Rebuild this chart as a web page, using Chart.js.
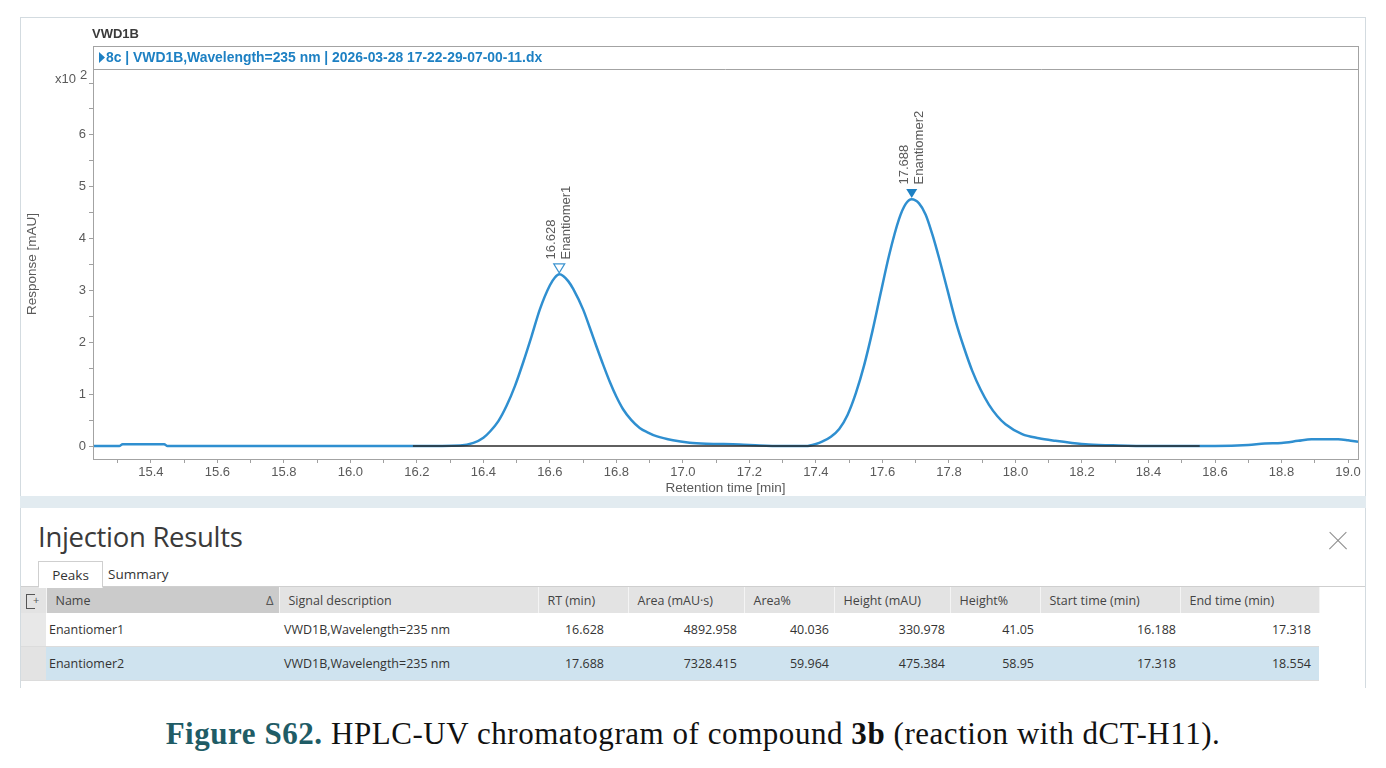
<!DOCTYPE html>
<html>
<head>
<meta charset="utf-8">
<script src="https://cdn.jsdelivr.net/npm/chart.js@4.4.1/dist/chart.umd.min.js"></script>
<style>
  html, body { margin: 0; padding: 0; background: #ffffff; }
  body { width: 1386px; height: 768px; position: relative; overflow: hidden; font-family: "Liberation Sans", Arial, sans-serif; }
  #topPanel { position: absolute; left: 20px; top: 17px; width: 1344px; height: 478px; border: 1px solid #d3dbe0; border-bottom: none; background: #fff; }
  #band { position: absolute; left: 20px; top: 496px; width: 1346px; height: 12px; background: #e2ebf0; }
  #bottomPanel { position: absolute; left: 20px; top: 508px; width: 1344px; height: 180px; border-left: 1px solid #d3dbe0; border-right: 1px solid #d3dbe0; background: #fff; }
  #chartBox { position: absolute; left: 0; top: 0; width: 1344px; height: 478px; }
  .ir-title { position: absolute; left: 17px; top: 10px; font-family: "Open Sans", sans-serif; font-size: 27.5px; color: #3a3a3a; letter-spacing: -0.3px; }
  .ir-close { position: absolute; left: 1308px; top: 24px; width: 18px; height: 18px; }
  .ir-close:before, .ir-close:after { content: ""; position: absolute; left: -3px; top: 8px; width: 24px; height: 1.4px; background: #8a8a8a; }
  .ir-close:before { transform: rotate(45deg); }
  .ir-close:after { transform: rotate(-45deg); }
  .tabline { position: absolute; left: 0; top: 78px; width: 1344px; height: 1px; background: #cfcfcf; }
  .tab { position: absolute; top: 53px; height: 25px; font-family: "Open Sans", sans-serif; font-size: 13.5px; color: #333; line-height: 26px; }
  .tab.active { left: 17px; width: 63px; border: 1px solid #cfcfcf; border-bottom: 1px solid #fff; background: #fff; text-align: center; z-index: 2; }
  .tab.inactive { left: 87px; }
  table.peaks { position: absolute; left: 0; top: 79px; border-collapse: collapse; table-layout: fixed; font-family: "Open Sans", sans-serif; font-size: 12.5px; color: #333; }
  table.peaks th { height: 26px; background: #e3e3e3; font-weight: normal; color: #444; text-align: left; padding: 0 0 0 9px; border-right: 1px solid #f4f4f4; white-space: nowrap; overflow: hidden; }
  table.peaks th.sorted { background: #cbcbcb; position: relative; }
  table.peaks th.icon { background: #e3e3e3; padding: 0; }
  table.peaks td { height: 33px; border-bottom: 1px solid #dcdcdc; white-space: nowrap; overflow: hidden; padding: 0 6px 0 3px; }
  table.peaks td.icon { background: #e8e8e8; padding: 0; border-bottom: 1px solid #dcdcdc; }
  table.peaks td.num { text-align: right; }
  table.peaks tr.sel td { background: #cfe3ef; }
  table.peaks tr.sel td.icon { background: #e3e3e3; }
  .sortmark { position: absolute; right: 5px; top: 4px; font-size: 13px; color: #555; }
  .colicon { display: inline-block; width: 8px; height: 13px; border: 1px solid #555; border-right: none; margin-left: 5px; vertical-align: middle; position: relative; }
  .colicon:after { content: "+"; position: absolute; left: 6px; top: -3px; font-size: 11px; color: #555; }
  #caption { position: absolute; left: 0; top: 716px; width: 1386px; text-align: center; font-family: "Liberation Serif", serif; font-size: 31px; letter-spacing: 0.55px; color: #111; }
  #caption .fig { color: #1f5c66; font-weight: bold; }
</style>
</head>
<body>
<div id="topPanel"><div id="chartBox"><canvas id="chart" width="1344" height="478"></canvas></div></div>
<div id="band"></div>
<div id="bottomPanel">
  <div class="ir-title">Injection Results</div>
  <div class="ir-close"></div>
  <div class="tab active">Peaks</div>
  <div class="tab inactive">Summary</div>
  <div class="tabline"></div>
  <table class="peaks" id="peakTable"></table>
</div>
<div id="caption"><span class="fig">Figure S62.</span> HPLC-UV chromatogram of compound <b>3b</b> (reaction with dCT-H11).</div>

<script>
// ---------------- DATA ----------------
// Retention time (min) and response (x10^2 mAU)
const retentionTime = [
  15.226, 15.305, 15.315, 15.44, 15.45, 16.20, 16.33, 16.37, 16.40, 16.42,
  16.445, 16.47, 16.495, 16.52, 16.545, 16.57, 16.60, 16.615, 16.628, 16.64,
  16.655, 16.67, 16.70, 16.72, 16.74, 16.76, 16.78, 16.80, 16.82, 16.845,
  16.87, 16.895, 16.92, 16.97, 17.02, 17.07, 17.17, 17.23, 17.30, 17.37,
  17.40, 17.42, 17.445, 17.47, 17.495, 17.52, 17.545, 17.57, 17.595, 17.62,
  17.65, 17.67, 17.688, 17.71, 17.73, 17.75, 17.77, 17.795, 17.82, 17.845,
  17.87, 17.895, 17.92, 17.945, 17.97, 18.02, 18.07, 18.12, 18.17, 18.22,
  18.31, 18.40, 18.60, 18.70, 18.75, 18.80, 18.85, 18.89, 18.97, 19.00,
  19.03
];
const response = [
  0.00, 0.00, 0.035, 0.035, 0.00, 0.00, 0.01, 0.06, 0.16, 0.28,
  0.48, 0.78, 1.16, 1.62, 2.12, 2.64, 3.10, 3.25, 3.31, 3.28,
  3.18, 3.03, 2.63, 2.28, 1.92, 1.57, 1.24, 0.95, 0.71, 0.50,
  0.35, 0.26, 0.19, 0.11, 0.065, 0.045, 0.03, 0.01, 0.00, 0.00,
  0.04, 0.09, 0.18, 0.33, 0.60, 1.02, 1.56, 2.22, 2.96, 3.68,
  4.38, 4.67, 4.76, 4.68, 4.46, 4.08, 3.63, 3.02, 2.41, 1.90,
  1.45, 1.09, 0.80, 0.58, 0.42, 0.23, 0.15, 0.10, 0.06, 0.03,
  0.01, 0.00, 0.00, 0.02, 0.05, 0.06, 0.10, 0.13, 0.13, 0.11,
  0.08
];
// Integration baseline (min)
const baselineTime = [16.188, 18.554];
const baselineValue = [0, 0];
// Peaks
const peakNames = ["Enantiomer1", "Enantiomer2"];
const peakRT = [16.628, 17.688];
const peakHeightMAU = [330.978, 475.384];
const peakFilledMarker = [false, true];
// Axis ticks
const xMajorTicks = [15.4, 15.6, 15.8, 16.0, 16.2, 16.4, 16.6, 16.8, 17.0, 17.2, 17.4, 17.6, 17.8, 18.0, 18.2, 18.4, 18.6, 18.8, 19.0];
const xTickLabels = ["15.4","15.6","15.8","16.0","16.2","16.4","16.6","16.8","17.0","17.2","17.4","17.6","17.8","18.0","18.2","18.4","18.6","18.8","19.0"];
const yMajorTicks = [0, 1, 2, 3, 4, 5, 6];
const yTickLabels = ["0","1","2","3","4","5","6"];
// Peak table
const tableHeaders = ["Name", "Signal description", "RT (min)", "Area (mAU·s)", "Area%", "Height (mAU)", "Height%", "Start time (min)", "End time (min)"];
const tableSignal = ["VWD1B,Wavelength=235 nm", "VWD1B,Wavelength=235 nm"];
const tableArea = ["4892.958", "7328.415"];
const tableAreaPct = ["40.036", "59.964"];
const tableHeight = ["330.978", "475.384"];
const tableHeightPct = ["41.05", "58.95"];
const tableStart = ["16.188", "17.318"];
const tableEnd = ["17.318", "18.554"];
const tableRT = ["16.628", "17.688"];

// ---------------- TABLE ----------------
(function buildTable() {
  const widths = [25, 233, 259, 90, 116, 90, 116, 90, 140, 139];
  const numPad = [null, null, null, 24, 7, 5, 5, 6, 4, 8];
  const t = document.getElementById('peakTable');
  let html = '<colgroup>' + widths.map(w => '<col style="width:' + w + 'px">').join('') + '</colgroup>';
  html += '<tr><th class="icon"><span class="colicon"></span></th>';
  tableHeaders.forEach((h, i) => {
    if (i === 0) html += '<th class="sorted">' + h + '<span class="sortmark">&#x394;</span></th>';
    else html += '<th>' + h + '</th>';
  });
  html += '</tr>';
  for (let r = 0; r < peakNames.length; r++) {
    const cells = [tableRT[r], tableArea[r], tableAreaPct[r], tableHeight[r], tableHeightPct[r], tableStart[r], tableEnd[r]];
    html += '<tr' + (r === 1 ? ' class="sel"' : '') + '><td class="icon"></td>';
    html += '<td>' + peakNames[r] + '</td><td style="padding-left:5px">' + tableSignal[r] + '</td>';
    cells.forEach((c, k) => { html += '<td class="num" style="padding-right:' + numPad[k + 3] + 'px">' + c + '</td>'; });
    html += '</tr>';
  }
  t.innerHTML = html;
})();

// ---------------- CHART ----------------
const traceData = retentionTime.map((t, i) => ({ x: t, y: response[i] }));
const baseData = baselineTime.map((t, i) => ({ x: t, y: baselineValue[i] }));

const xTickValues = [];
xMajorTicks.forEach((v) => { xTickValues.push(+(v - 0.1).toFixed(2)); xTickValues.push(v); });
const yTickValues = [];
yMajorTicks.forEach((v) => { yTickValues.push(v); yTickValues.push(v + 0.5); });
yTickValues.push(7);

const FONT = '"Liberation Sans", Arial, sans-serif';

const decor = {
  id: 'decor',
  afterDraw(chart) {
    const ctx = chart.ctx;
    const ca = chart.chartArea;
    const xs = chart.scales.x, ys = chart.scales.y;
    ctx.save();
    // frame with header strip
    ctx.strokeStyle = '#a3a3a3';
    ctx.lineWidth = 1;
    const headTop = ca.top - 23;
    ctx.strokeRect(Math.round(ca.left) + 0.5, headTop + 0.5, Math.round(ca.right - ca.left), Math.round(ca.bottom - headTop));
    ctx.beginPath();
    ctx.moveTo(ca.left, Math.round(ca.top) + 0.5);
    ctx.lineTo(ca.right, Math.round(ca.top) + 0.5);
    ctx.stroke();
    // header strip contents
    ctx.fillStyle = '#1d80c3';
    ctx.beginPath();
    const hy = headTop + 11.5;
    ctx.moveTo(ca.left + 6, hy - 5.5);
    ctx.lineTo(ca.left + 12, hy);
    ctx.lineTo(ca.left + 6, hy + 5.5);
    ctx.closePath();
    ctx.fill();
    ctx.font = 'bold 13.9px ' + FONT;
    ctx.textBaseline = 'middle';
    ctx.textAlign = 'left';
    ctx.fillText('8c | VWD1B,Wavelength=235 nm | 2026-03-28 17-22-29-07-00-11.dx', ca.left + 13, hy + 0.5);
    // signal title
    ctx.fillStyle = '#3a3a3a';
    ctx.font = 'bold 13px ' + FONT;
    ctx.fillText('VWD1B', ca.left - 1, 16);
    // x10^2 label
    ctx.fillStyle = '#5a5a5a';
    ctx.font = '13px ' + FONT;
    ctx.textAlign = 'right';
    ctx.fillText('x10', ca.left - 17, ys.getPixelForValue(7) - 4);
    ctx.textAlign = 'left';
    ctx.fillText('2', ca.left - 13, ys.getPixelForValue(7) - 8);
    // peak markers and labels
    peakRT.forEach((rt, i) => {
      const px = xs.getPixelForValue(rt);
      const py = ys.getPixelForValue(peakHeightMAU[i] / 100);
      const cy = py - 6;
      ctx.beginPath();
      ctx.moveTo(px - 5.5, cy - 4.5);
      ctx.lineTo(px + 5.5, cy - 4.5);
      ctx.lineTo(px, cy + 4.5);
      ctx.closePath();
      if (peakFilledMarker[i]) {
        ctx.fillStyle = '#1d80c3';
        ctx.fill();
      } else {
        ctx.strokeStyle = '#3b93cf';
        ctx.lineWidth = 1.2;
        ctx.stroke();
      }
      ctx.save();
      ctx.translate(px, cy - 9);
      ctx.rotate(-Math.PI / 2);
      ctx.fillStyle = '#5a5a5a';
      ctx.font = '13px ' + FONT;
      ctx.textAlign = 'left';
      ctx.textBaseline = 'middle';
      ctx.fillText(rt.toFixed(3), 0, -7.5);
      ctx.fillText(peakNames[i], 0, 7.5);
      ctx.restore();
    });
    ctx.restore();
  }
};

new Chart(document.getElementById('chart'), {
  type: 'line',
  data: {
    datasets: [
      {
        label: 'Integration baseline',
        data: baseData,
        borderColor: '#2a2a2a',
        borderWidth: 1.4,
        pointRadius: 0,
        order: 0
      },
      {
        label: 'VWD1B',
        data: traceData,
        borderColor: '#2f8fd0',
        borderWidth: 2.5,
        pointRadius: 0,
        cubicInterpolationMode: 'monotone',
        order: 1
      }
    ]
  },
  options: {
    responsive: false,
    animation: false,
    events: [],
    layout: { padding: { left: 0, right: 7, top: 51, bottom: 0 } },
    plugins: { legend: { display: false }, tooltip: { enabled: false } },
    scales: {
      x: {
        type: 'linear',
        min: 15.226,
        max: 19.03,
        afterBuildTicks: (s) => { s.ticks = xTickValues.map(v => ({ value: v })); },
        afterFit: (s) => { s.height = 37; },
        border: { display: false },
        grid: { drawOnChartArea: false, drawTicks: true, tickLength: 4, tickColor: '#a0a0a0' },
        ticks: {
          autoSkip: false, maxRotation: 0, padding: 2,
          color: '#5a5a5a',
          font: { family: FONT, size: 13 },
          callback: (v) => { const k = xMajorTicks.findIndex(m => Math.abs(m - v) < 1e-6); return k >= 0 ? xTickLabels[k] : ''; }
        },
        title: {
          display: true, text: 'Retention time [min]', color: '#5a5a5a',
          font: { family: FONT, size: 13.5 },
          padding: { top: 0, bottom: 0 }
        }
      },
      y: {
        type: 'linear',
        min: -0.25,
        max: 7.27,
        afterBuildTicks: (s) => { s.ticks = yTickValues.map(v => ({ value: v })); },
        afterFit: (s) => { s.width = 72; },
        border: { display: false },
        grid: { drawOnChartArea: false, drawTicks: true, tickLength: 4, tickColor: '#a0a0a0' },
        ticks: {
          autoSkip: false, padding: 3,
          color: '#5a5a5a',
          font: { family: FONT, size: 13 },
          callback: (v) => { const k = yMajorTicks.indexOf(v); return k >= 0 ? yTickLabels[k] : ''; }
        },
        title: {
          display: true, text: 'Response [mAU]', color: '#5a5a5a',
          font: { family: FONT, size: 13.5 },
          padding: { top: 3, bottom: 0 }
        }
      }
    }
  },
  plugins: [decor]
});
</script>
</body>
</html>
